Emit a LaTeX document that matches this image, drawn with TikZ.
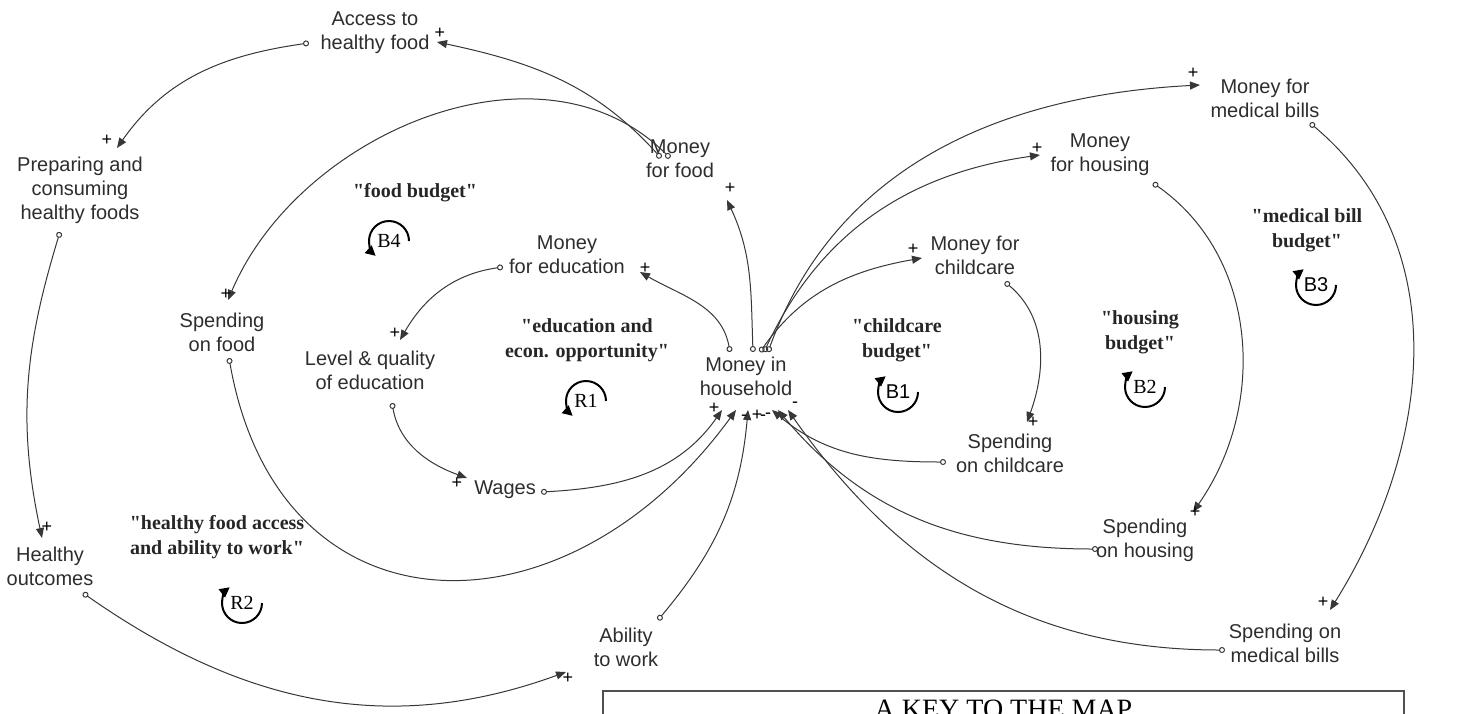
\documentclass[tikz,border=0pt]{standalone}
\usepackage{fontspec}
\setmainfont{Liberation Sans}
\newfontfamily\serifface{Liberation Serif}
\usetikzlibrary{arrows.meta,calc}
\definecolor{linkcolor}{RGB}{55, 55, 55}
\definecolor{varcolor}{RGB}{45, 45, 45}
\definecolor{keycolor}{RGB}{80, 80, 80}

\begin{document}
\begin{tikzpicture}[
        x=0.5pt, y=0.5pt,
        var/.style={align=center, font=\fontsize{10}{12}\selectfont, text=varcolor, inner sep=0pt},
        loopname/.style={align=center, font=\serifface\bfseries\fontsize{10}{12.5}\selectfont, text=black!85},
        loopid/.style={font=\fontsize{10}{12}\selectfont, inner sep=0pt},
        loopidserif/.style={loopid, font=\serifface\fontsize{10}{12}\selectfont},
        looparrow/.style={-{Triangle[length=5pt, width=5pt]}, line width=1pt},
        link/.style={{Circle[open, length=3pt, width=3pt]}-{Triangle[length=5pt, width=4pt]}, draw=linkcolor, line width=0.5pt},
        pol/.style={font=\fontsize{9}{9}\selectfont, inner sep=0pt, text=black},
        keybox/.style={draw=keycolor, line width=1pt, minimum width=400.5pt, inner ysep=4.5pt, font=\serifface\fontsize{14}{16}\selectfont}
    ]
        \clip (0,0) rectangle (1457,-713);

        % Variables
        \node[var] (acc) at (375,-33) {Access to\\healthy food};
        \node[var] (prep) at (80,-190) {Preparing and\\consuming\\healthy foods};
        \node[var] (mfood) at (680,-159) {Money\\for food};
        \node[var] (medu) at (567,-255) {Money\\for education};
        \node[var] (spf) at (222,-332) {Spending\\on food};
        \node[var] (lqe) at (370,-370) {Level \& quality\\of education};
        \node[var] (hh) at (746,-376) {Money in\\household};
        \node[var] (wages) at (505,-490) {Wages};
        \node[var] (mcc) at (975,-255) {Money for\\childcare};
        \node[var] (spcc) at (1010,-453) {Spending\\on childcare};
        \node[var] (mhs) at (1100,-155) {Money\\for housing};
        \node[var] (sph) at (1145,-540) {Spending\\on housing};
        \node[var] (mmb) at (1265,-98) {Money for\\medical bills};
        \node[var] (spmb) at (1285,-643) {Spending on\\medical bills};
        \node[var] (hout) at (50,-566) {Healthy\\outcomes};
        \node[var] (abw) at (626,-647) {Ability\\to work};

        % Loop names
        \node[loopname] (fbname) at (415,-193) {"food budget"};
        \node[loopname] (edname) at (587,-340) {"education and\\econ. opportunity"};
        \node[loopname] (ccname) at (897,-340) {"childcare\\budget"};
        \node[loopname] (hsname) at (1140,-332) {"housing\\budget"};
        \node[loopname] (mbname) at (1307,-230) {"medical bill\\budget"};
        \node[loopname] (hfname) at (217,-537) {"healthy food access\\and ability to work"};

        % Loop markers
        \node[loopidserif] (b4) at (389,-241) {B4};
        \draw[looparrow] ($(b4)+(20,0)$) arc[start angle=0, end angle=228, radius=10pt];
        \node[loopidserif] (r1) at (586,-401) {R1};
        \draw[looparrow] ($(r1)+(20,0)$) arc[start angle=0, end angle=228, radius=10pt];
        \node[loopid] (b1) at (898,-392) {B1};
        \draw[looparrow] ($(b1)+(20,0)$) arc[start angle=0, end angle=-232, radius=10pt];
        \node[loopidserif] (b2) at (1145,-387) {B2};
        \draw[looparrow] ($(b2)+(20,0)$) arc[start angle=0, end angle=-232, radius=10pt];
        \node[loopid] (b3) at (1316,-285) {B3};
        \draw[looparrow] ($(b3)+(20,0)$) arc[start angle=0, end angle=-232, radius=10pt];
        \node[loopidserif] (r2) at (242,-603) {R2};
        \draw[looparrow] ($(r2)+(20,0)$) arc[start angle=0, end angle=-232, radius=10pt];

        % Food loops
        \draw[link] ($(mfood)+(-19,1)$) to[out=132, in=-12]
            node[pol, pos=1, xshift=1.5pt, yshift=4.5pt] {+} ($(acc)+(62,-9)$);
        \draw[link] ($(acc)+(-66,-10)$) to[out=188, in=55]
            node[pol, pos=1, xshift=-5pt, yshift=4pt] {+} ($(prep)+(37,42)$);
        \draw[link] ($(prep)+(-20,-42)$) to[out=253, in=102]
            node[pol, pos=1, xshift=2.5pt, yshift=5.5pt] {+} ($(hout)+(-8,28)$);
        \draw[link] ($(hout)+(33,-27)$) to[out=-35, in=200]
            node[pol, pos=1, xshift=1pt, yshift=-3pt] {+} ($(abw)+(-60,-25)$);
        \draw[link] ($(abw)+(32,27)$) to[out=50, in=-95]
            node[pol, pos=1, xshift=4.5pt, yshift=-2.5pt] {+} ($(hh)+(2,-34)$);
        \draw[link] ($(mfood)+(-10,1)$) to[out=135, in=67]
            node[pol, pos=1, xshift=-1pt, yshift=3pt] {+} ($(spf)+(6,32)$);
        \draw[link] ($(spf)+(7,-26)$) to[out=-80, in=-126, looseness=1.45]
            node[pol, pos=1, xshift=4pt, yshift=-4pt] {-} ($(hh)+(-10,-34)$);
        \draw[link] ($(hh)+(7,24)$) to[out=92, in=-65]
            node[pol, pos=1, xshift=1.5pt, yshift=6pt] {+} ($(mfood)+(47,-41)$);

        % Education loop
        \draw[link] ($(hh)+(-16,24)$) to[out=100, in=-30]
            node[pol, pos=1, xshift=2.5pt, yshift=2pt] {+} ($(medu)+(73,-17)$);
        \draw[link] ($(medu)+(-64,-12)$) to[out=188, in=60]
            node[pol, pos=1, xshift=-2.5pt, yshift=3.5pt] {+} ($(lqe)+(30,30)$);
        \draw[link] ($(lqe)+(22,-33)$) to[out=-80, in=160]
            node[pol, pos=1, xshift=-5pt, yshift=-2.5pt] {+} ($(wages)+(-38,12)$);
        \draw[link] ($(wages)+(36,-2)$) to[out=3, in=-125]
            node[pol, pos=1, xshift=-4pt, yshift=1pt] {+} ($(hh)+(-24,-34)$);

        % Budget loops
        \draw[link] ($(hh)+(14,24)$) to[out=55, in=190]
            node[pol, pos=1, xshift=-4.5pt, yshift=4.5pt] {+} ($(mcc)+(-53,-3)$);
        \draw[link] ($(hh)+(18,24)$) to[out=65, in=188]
            node[pol, pos=1, xshift=-1.5pt, yshift=3.5pt] {+} ($(mhs)+(-60,0)$);
        \draw[link] ($(hh)+(22,24)$) to[out=70, in=183]
            node[pol, pos=1, xshift=-3.5pt, yshift=6pt] {+} ($(mmb)+(-65,13)$);
        \draw[link] ($(mcc)+(30,-27)$) to[out=-40, in=70]
            node[pol, pos=1, xshift=3pt, yshift=0pt] {+} ($(spcc)+(17,31)$);
        \draw[link] ($(spcc)+(-64,-9)$) to[out=180, in=-40]
            node[pol, pos=1, xshift=-4.5pt, yshift=-4pt] {-} ($(hh)+(26,-34)$);
        \draw[link] ($(mhs)+(53,-28)$) to[out=-35, in=55]
            node[pol, pos=1, xshift=1pt, yshift=0pt] {+} ($(sph)+(48,28)$);
        \draw[link] ($(sph)+(-47,-9)$) to[out=180, in=-50]
            node[pol, pos=1, xshift=-5pt, yshift=-3pt] {-} ($(hh)+(32,-34)$);
        \draw[link] ($(mmb)+(45,-25)$) to[out=-40, in=58]
            node[pol, pos=1, xshift=-3.5pt, yshift=4pt] {+} ($(spmb)+(45,33)$);
        \draw[link] ($(spmb)+(-60,-7)$) to[out=180, in=-55]
            node[pol, pos=1, xshift=3.5pt, yshift=2.5pt] {-} ($(hh)+(42,-34)$);

        % Key
        \node[keybox, anchor=north] (key) at (1003.5,-690) {A KEY TO THE MAP};

    \end{tikzpicture}
\end{document}
